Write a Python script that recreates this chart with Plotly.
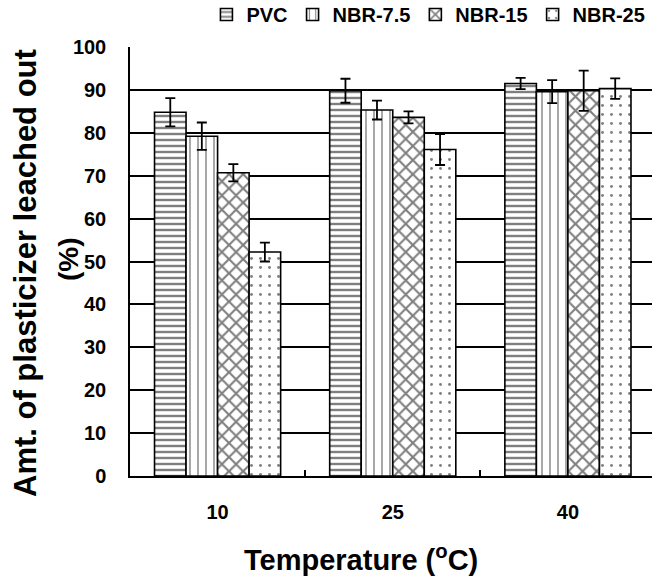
import plotly.graph_objects as go

categories = ["10", "25", "40"]
series_names = ["PVC", "NBR-7.5", "NBR-15", "NBR-25"]
values = {
    "PVC": [84.8, 89.8, 91.5],
    "NBR-7.5": [79.2, 85.3, 89.6],
    "NBR-15": [70.7, 83.6, 89.8],
    "NBR-25": [52.2, 76.1, 90.3],
}
errors = {
    "PVC": [3.3, 2.8, 1.3],
    "NBR-7.5": [3.2, 2.2, 2.7],
    "NBR-15": [2.0, 1.4, 4.7],
    "NBR-25": [2.2, 3.6, 2.4],
}
x_title = "Temperature (<sup>o</sup>C)"
y_title_main = "Amt. of plasticizer leached out"
y_title_unit = "(%)"

patterns = {"PVC": "-", "NBR-7.5": "|", "NBR-15": "x", "NBR-25": "."}
pat_size = {"PVC": 6, "NBR-7.5": 8, "NBR-15": 10, "NBR-25": 9}
pat_sol = {"PVC": 0.4, "NBR-7.5": 0.17, "NBR-15": 0.38, "NBR-25": 0.08}

FONT = "Liberation Sans, Arial, sans-serif"

fig = go.Figure()
for name in series_names:
    fig.add_trace(go.Bar(
        name=name,
        x=categories,
        y=values[name],
        error_y=dict(type="data", array=errors[name], color="black", thickness=1.8, width=5),
        marker=dict(
            color="white",
            line=dict(color="black", width=1.6),
            pattern=dict(shape=patterns[name], fgcolor="black", bgcolor="white",
                         size=pat_size[name], solidity=pat_sol[name], fillmode="overlay"),
        ),
    ))

fig.update_layout(
    width=652, height=577,
    margin=dict(l=130, r=0, t=47, b=101),
    paper_bgcolor="white", plot_bgcolor="white",
    barmode="group", bargap=0.28, bargroupgap=0,
    font=dict(family=FONT, color="black", size=20, weight=700),
    showlegend=True,
    legend=dict(orientation="h", x=0.997, xanchor="right", y=0.975, yanchor="middle",
                yref="container", font=dict(size=20, weight=700),
                traceorder="normal", itemwidth=30, tracegroupgap=0),
    xaxis=dict(
        type="category", range=[-0.5, 2.48],
        showline=True, linecolor="black", linewidth=2,
        ticks="inside", ticklen=6, tickwidth=1.5, tickcolor="black",
        tickson="boundaries", showgrid=False,
        tickfont=dict(size=20, weight=700), ticklabelstandoff=17,
    ),
    yaxis=dict(
        range=[0, 100], dtick=10,
        showline=True, linecolor="black", linewidth=1.5,
        showgrid=True, gridcolor="black", gridwidth=1.5,
        ticks="", tickfont=dict(size=20, weight=700), ticklabelstandoff=18,
        zeroline=False,
    ),
    annotations=[
        dict(text=x_title, xref="paper", yref="paper", x=(361 - 130) / 522, y=-(558 - 476) / 429,
             xanchor="center", yanchor="middle", showarrow=False,
             font=dict(size=29, weight=700)),
        dict(text=y_title_main, xref="paper", yref="paper", x=(25 - 130) / 522, y=(476 - 273) / 429,
             xanchor="center", yanchor="middle", showarrow=False, textangle=-90,
             font=dict(size=31, weight=700)),
        dict(text=y_title_unit, xref="paper", yref="paper", x=(68 - 130) / 522, y=(476 - 259) / 429,
             xanchor="center", yanchor="middle", showarrow=False, textangle=-90,
             font=dict(size=28, weight=700)),
    ],
)

fig.write_html("out.html")
